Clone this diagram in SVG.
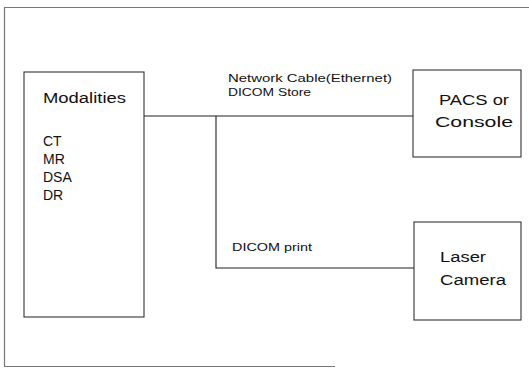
<svg xmlns="http://www.w3.org/2000/svg" width="529" height="368" viewBox="0 0 529 368">
<style>
.frame{fill:none;stroke:#777;stroke-width:1.2}
.box{fill:#fff;stroke:#333;stroke-width:1.1}
.wire{fill:none;stroke:#222;stroke-width:1.1}
.dot{fill:#000}
.big{font-family:"Liberation Sans",Arial,sans-serif;font-size:14px;fill:#111}
.small{font-family:"Liberation Sans",Arial,sans-serif;font-size:10.5px;fill:#111}
</style>
<rect width="529" height="368" fill="#fff"/>
<g id="frame">
<path class="frame" d="M529,7.5 H4.5 V366.5 H335"/>
</g>
<g id="connectors">
<path class="wire" d="M144,116 H414"/>
<path class="wire" d="M216,116 V268 H414"/>
<ellipse class="dot" cx="421" cy="116" rx="6" ry="6.8"/>
<ellipse class="dot" cx="421" cy="269" rx="6" ry="6.8"/>
</g>
<g id="modalities">
<rect class="box" x="24" y="72" width="120" height="245"/>
<text class="big" x="43" y="103" textLength="83" lengthAdjust="spacingAndGlyphs">Modalities</text>
<text class="big" x="43" y="146">CT</text>
<text class="big" x="43" y="164">MR</text>
<text class="big" x="43" y="182">DSA</text>
<text class="big" x="43" y="200">DR</text>
</g>
<g id="pacs">
<rect class="box" x="413" y="70" width="108" height="87"/>
<text class="big" x="439" y="105" textLength="70" lengthAdjust="spacingAndGlyphs">PACS or</text>
<text class="big" x="435" y="127" textLength="78" lengthAdjust="spacingAndGlyphs">Console</text>
</g>
<g id="laser">
<rect class="box" x="414" y="222" width="107" height="98"/>
<text class="big" x="440" y="262" textLength="46" lengthAdjust="spacingAndGlyphs">Laser</text>
<text class="big" x="440" y="285" textLength="66" lengthAdjust="spacingAndGlyphs">Camera</text>
</g>
<g id="labels">
<text class="small" x="228" y="82" textLength="164" lengthAdjust="spacingAndGlyphs">Network Cable(Ethernet)</text>
<text class="small" x="228" y="96" textLength="83" lengthAdjust="spacingAndGlyphs">DICOM Store</text>
<text class="small" x="232" y="251" textLength="80" lengthAdjust="spacingAndGlyphs">DICOM print</text>
</g>
</svg>
